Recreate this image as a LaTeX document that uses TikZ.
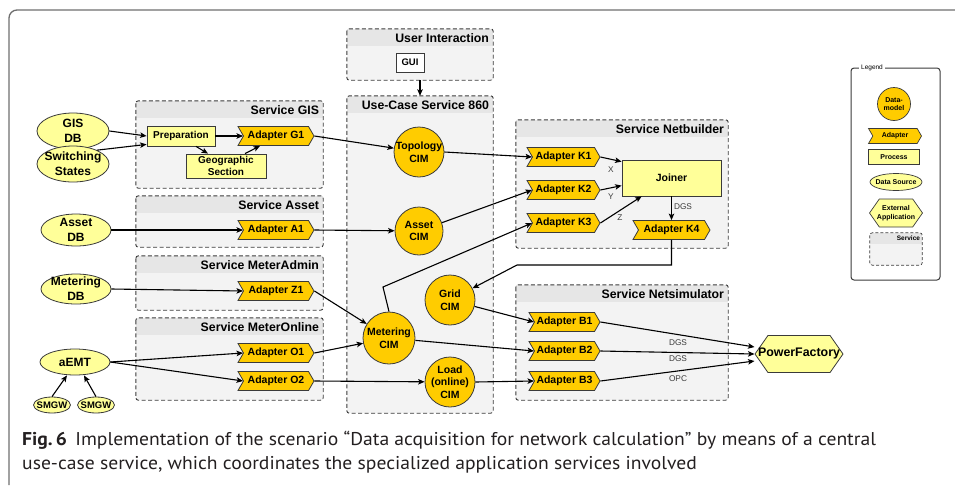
\documentclass[tikz,border=0pt]{standalone}
\usepackage{fontspec}
\setmainfont{Liberation Sans}
\newfontfamily\capfont[FakeStretch=1.06]{PT Sans}
\usetikzlibrary{arrows.meta, positioning, fit, shapes.geometric, shapes.symbols}
\definecolor{gold}{HTML}{FFCC00}
\definecolor{paleyellow}{HTML}{FFFF99}
\definecolor{svcfill}{HTML}{F3F3F3}
\definecolor{svchead}{HTML}{E6E6E6}
\definecolor{edgegray}{HTML}{3A3A3A}
\definecolor{framegray}{HTML}{6E6E6E}
\definecolor{captext}{HTML}{231F20}

\begin{document}
\begin{tikzpicture}[x=1pt, y=-1pt,
    bfs/.style 2 args={font=\bfseries\fontsize{#1}{#2}\selectfont},
    inlabel/.style 2 args={bfs={#1}{#2}, align=center, inner sep=0pt},
    svcbox/.style={inner sep=0pt, fill=svcfill},
    svcline/.style={draw=edgegray, line width=0.9pt, dash pattern=on 4pt off 2.5pt, rounded corners=2.5pt},
    svctitle/.style={bfs={12.3}{14}, inner sep=0pt},
    src/.style={ellipse, draw=edgegray, fill=paleyellow, line width=0.8pt, inner sep=0pt,
                minimum width=72, minimum height=36, label={[inlabel={12}{15}]center:#1}},
    cim/.style={circle, draw=edgegray, fill=gold, line width=0.8pt, inner sep=0pt,
                minimum size=50, label={[inlabel={10.5}{12.5}]center:#1}},
    adapter/.style={signal, signal from=west, signal to=east, signal pointer angle=120,
                draw=edgegray, fill=gold, line width=0.8pt, inner xsep=1pt, inner ysep=0pt,
                minimum width=76, minimum height=19, bfs={10.5}{12}},
    proc/.style={rectangle, draw=edgegray, fill=paleyellow, line width=0.8pt, inner sep=2pt,
                minimum height=20, align=center, bfs={10}{11.5}},
    extapp/.style={signal, signal to=west and east, signal pointer angle=110,
                draw=edgegray, fill=paleyellow, line width=0.8pt, inner sep=0pt,
                minimum width=88, minimum height=37, label={[inlabel={12.4}{14}]center:#1}},
    flow/.style={draw=black, line width=1.1pt, -{Stealth[length=6.5pt, width=5.5pt, inset=1.5pt]}},
    tag/.style={font=\fontsize{8.3}{9}\selectfont, text=edgegray, inner sep=0pt},
    leg/.style={line width=0.7pt, draw=edgegray}]

\useasboundingbox (0,0) rectangle (955,485);

% frame of the figure
\draw[framegray, line width=1.3pt, rounded corners=8pt] (9,485) -- (9,10) -- (955,10);

% service boxes
\foreach \nm/\xa/\ya/\xb/\yb/\ttl in {
    ui/347/29/493/80/User Interaction,
    uc/347/96/493/413/Use-Case Service 860,
    gis/136/101/323/188/Service GIS,
    asset/136/196/323/247/Service Asset,
    madmin/136/256/323/310/Service MeterAdmin,
    monline/136/318/323/400/Service MeterOnline,
    nbuild/516/120/728/248/Service Netbuilder,
    nsim/516/285/728/400/Service Netsimulator}{
  \node[svcbox, fit={(\xa,\ya) (\xb,\yb)}] (\nm) {};
  \fill[svchead] ([xshift=0.5pt,yshift=-0.5pt]\nm.north west) rectangle ([xshift=-0.5pt,yshift=-17pt]\nm.north east);
  \draw[svcline] (\nm.north west) rectangle (\nm.south east);
  \node[svctitle, anchor=east] (\nm-title) at ([xshift=-4pt,yshift=-9pt]\nm.north east) {\ttl};
}

% data sources
\node[src={GIS\\DB}] (gisdb) at (73,131) {};
\node[src={Switching\\States}] (switch) at (73,164) {};
\node[src={Asset\\DB}, minimum width=70, minimum height=32] (assetdb) at (76,230) {};
\node[src={Metering\\DB}, minimum width=70, minimum height=30] (meterdb) at (76,289) {};
\node[src={aEMT}, minimum width=70, minimum height=26] (aemt) at (75,362) {};
\node[ellipse, draw=edgegray, fill=paleyellow, line width=0.8pt, inner sep=0pt,
      minimum width=37, minimum height=16, label={[inlabel={9.5}{11}]center:SMGW}] (smgwa) at (52,405) {};
\node[ellipse, draw=edgegray, fill=paleyellow, line width=0.8pt, inner sep=0pt,
      minimum width=37, minimum height=16, label={[inlabel={9.5}{11}]center:SMGW}] (smgwb) at (96,405) {};

% user interaction
\node[rectangle, draw=edgegray, fill=white, line width=0.9pt, minimum width=28, minimum height=19,
      inner sep=0pt, bfs={9.5}{11}] (gui) at (410,62.5) {GUI};

% service GIS
\node[proc, minimum width=68] (prep) at (181,136) {Preparation};
\node[proc, minimum width=80, minimum height=24, inner sep=0pt] (geo) at (226,166) {Geographic\\Section};
\node[adapter] (g1) at (276,136) {Adapter G1};

% other adapters left
\node[adapter] (a1) at (276,230) {Adapter A1};
\node[adapter] (z1) at (276,291) {Adapter Z1};
\node[adapter] (o1) at (276,353) {Adapter O1};
\node[adapter] (o2) at (276,381) {Adapter O2};

% use-case data models
\node[cim={Topology\\CIM}] (topocim) at (419,152) {};
\node[cim={Asset\\CIM}, minimum size=48] (assetcim) at (419,231) {};
\node[cim={Grid\\CIM}] (gridcim) at (450,300) {};
\node[cim={Metering\\CIM}, minimum size=52] (metercim) at (389,338) {};
\node[cim={Load\\(online)\\CIM}] (loadcim) at (450,382) {};

% netbuilder
\node[adapter, minimum width=73] (k1) at (563.5,157) {Adapter K1};
\node[adapter, minimum width=73] (k2) at (563.5,190) {Adapter K2};
\node[adapter, minimum width=73] (k3) at (563.5,223) {Adapter K3};
\node[proc, minimum width=99, minimum height=36, bfs={10.5}{12}] (joiner) at (671.5,178) {Joiner};
\node[adapter, minimum width=77] (k4) at (671.5,230) {Adapter K4};

% netsimulator
\node[adapter, minimum width=71] (b1) at (564.5,322) {Adapter B1};
\node[adapter, minimum width=71] (b2) at (564.5,351) {Adapter B2};
\node[adapter, minimum width=71] (b3) at (564.5,381) {Adapter B3};
\node[extapp={PowerFactory}] (pf) at (799,354) {};

% connectors
\coordinate (mbend) at (383,287);
\coordinate (kbend) at (517,265);
\draw[flow] (ui.south) -- (uc.north);
\draw[flow] (gisdb.east) -- (prep.west);
\draw[flow] (switch.30) -- ([yshift=2pt]prep.south west);
\draw[flow] (prep.east) -- (g1.west);
\draw[flow] ([xshift=15pt]prep.south) -- ([xshift=-18pt]geo.north);
\draw[flow] ([xshift=19pt]geo.north) -- ([xshift=-16pt]g1.south);
\draw[flow] (g1.east) -- (topocim);
\draw[flow] (topocim.east) -- (k1.west);
\draw[flow] (assetdb.east) -- (a1.west);
\draw[flow] (a1.east) -- (assetcim);
\draw[flow] (assetcim) -- (k2.west);
\draw[flow] (meterdb.east) -- (z1.west);
\draw[flow] (z1.east) -- (metercim);
\draw[flow] (aemt.east) -- (o1.west);
\draw[flow] (aemt.east) -- (o2.west);
\draw[flow] (o1.east) -- (metercim);
\draw[flow] (o2.east) -- (loadcim);
\draw[flow] (smgwa.north) -- ([xshift=-8pt]aemt.south);
\draw[flow] (smgwb.north) -- ([xshift=9pt]aemt.south);
\draw[flow] (metercim.north) -- (mbend) -- (k3.west);
\draw[flow] (k1.east) -- ([yshift=-2pt]joiner.north west);
\draw[flow] (k2.east) -- ([yshift=-26pt]joiner.north west);
\draw[flow] (k3.east) -- ([xshift=20pt]joiner.south west);
\draw[flow] (joiner.south) -- (k4.north);
\draw[flow] (k4.south) |- (kbend) -- (gridcim);
\draw[flow] (gridcim) -- (b1.west);
\draw[flow] (metercim) -- (b2.west);
\draw[flow] (loadcim.east) -- (b3.west);
\draw[flow] (b1.east) -- ([yshift=7pt]pf.west);
\draw[flow] (b2.east) -- (pf.west);
\draw[flow] (b3.east) -- ([yshift=-7pt]pf.west);

% connector tags
\node[tag] (tagx) at (611,170) {X};
\node[tag] (tagy) at (611,197) {Y};
\node[tag] (tagz) at (620,218) {Z};
\node[tag] (tagdgs) at (683,207) {DGS};
\node[tag] (tagb1) at (678,343) {DGS};
\node[tag] (tagb2) at (678,359) {DGS};
\node[tag] (tagb3) at (678,379) {OPC};

% legend
\draw[edgegray, line width=1pt, rounded corners=3pt] (851,68) rectangle (940,280);
\node[fill=white, inner xsep=2pt, inner ysep=1pt, font=\fontsize{6.5}{7}\selectfont] (legtitle) at (872,68) {Legend};
\node[circle, leg, fill=gold, minimum size=33, inner sep=0pt,
      label={[inlabel={7}{8.5}]center:Data-\\model}] (legcim) at (894,104) {};
\node[adapter, leg, minimum width=53, minimum height=15, bfs={7}{8}] (legad) at (895,136) {Adapter};
\node[proc, leg, minimum width=51, minimum height=15, inner sep=0pt, bfs={7}{8}] (legproc) at (894,157) {Process};
\node[ellipse, leg, fill=paleyellow, minimum width=52, minimum height=17, inner sep=0pt,
      label={[inlabel={7}{8.5}]center:Data Source}] (legsrc) at (896,182) {};
\node[signal, signal to=west and east, signal pointer angle=110, leg, fill=paleyellow,
      minimum width=53, minimum height=28, inner sep=0pt,
      label={[inlabel={7}{8.5}]center:External\\Application}] (legext) at (896,213) {};
\node[svcbox, fit={(870,233) (922,265)}] (legsvc) {};
\fill[svchead] ([xshift=0.5pt,yshift=-0.5pt]legsvc.north west) rectangle ([xshift=-0.5pt,yshift=-11pt]legsvc.north east);
\draw[svcline, line width=0.7pt, dash pattern=on 3pt off 2pt] (legsvc.north west) rectangle (legsvc.south east);
\node[anchor=east, inner sep=0pt, bfs={6.5}{7}] (legsvctitle) at ([xshift=-2pt,yshift=-5.5pt]legsvc.north east) {Service};

% caption
\node[anchor=base west, inner sep=0pt, text=captext, font=\capfont\fontsize{18.5}{20}\selectfont] (cap1) at (22,445)
  {\textbf{Fig.\,6}\hspace{0.45em}Implementation of the scenario “Data acquisition for network calculation” by means of a central};
\node[anchor=base west, inner sep=0pt, text=captext, font=\capfont\fontsize{18.5}{20}\selectfont] (cap2) at (22,469)
  {use-case service, which coordinates the specialized application services involved};
\end{tikzpicture}
\end{document}
